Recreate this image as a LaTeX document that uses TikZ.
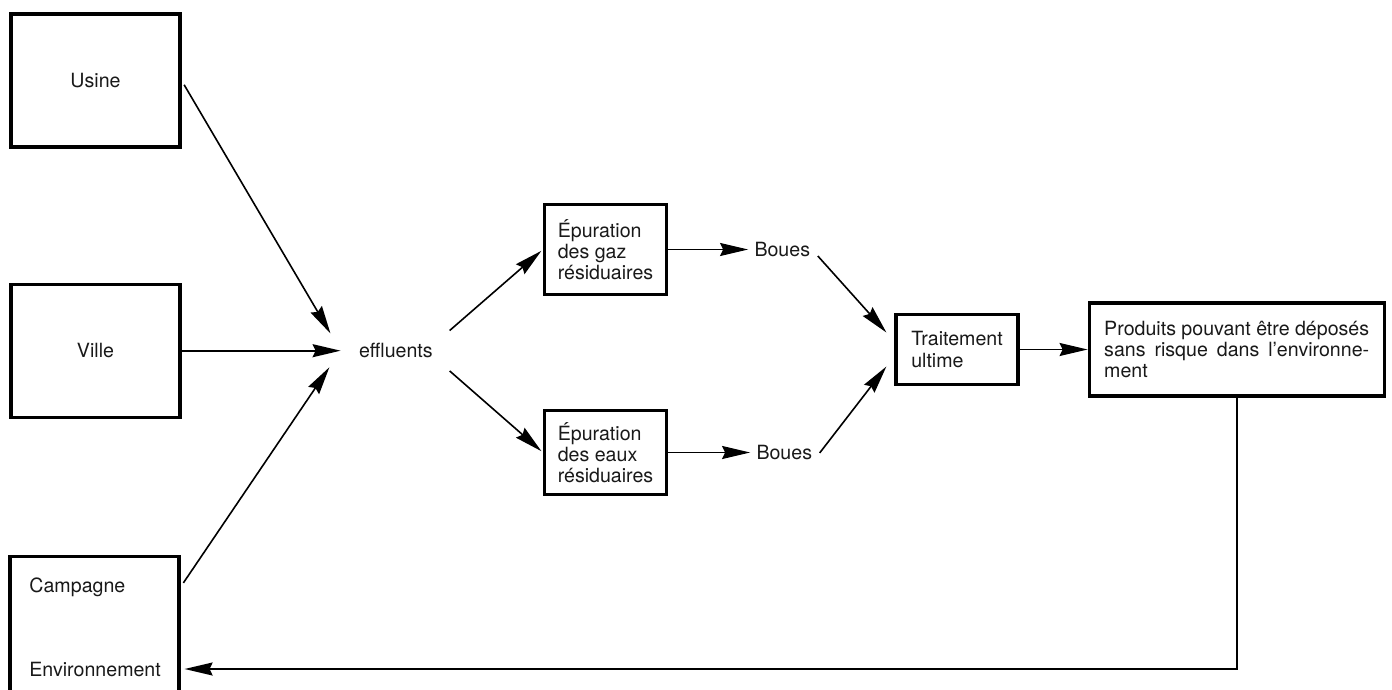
\documentclass[tikz,border=0pt]{standalone}
\usepackage{fontspec}
\setmainfont{TeX Gyre Heros}
\usepackage{calc}
\usetikzlibrary{positioning}
\usetikzlibrary{arrows.meta}

\begin{document}
\begin{tikzpicture}[
x=0.5pt, y=-0.5pt,
font=\fontsize{9.8}{10.6}\selectfont,
text=black!90,
srcbox/.style={rectangle, draw, line width=1.6pt, minimum width=84.5pt, minimum height=66.5pt},
procbox/.style={rectangle, draw, line width=1.6pt, align=left, inner sep=0pt, minimum width=61pt},
word/.style={inner sep=3pt},
flow/.style={line width=0.8pt, -{Stealth[length=14pt, width=6.5pt, inset=1.5pt]}},
]
%Frame
\path[use as bounding box] (0,0) rectangle (1392,690);
\clip (0,0) rectangle (1392,690);

%Nodes
\node[srcbox]								(usine)		at (95.5,80.5)			{Usine};
\node[srcbox]								(ville)		[below=67pt of usine]	{Ville};
\node[srcbox, minimum height=91pt]			(campbox)	at (94.5,647.5)			{};
\node[word, anchor=west]					(camp)		at (23,587)				{Campagne};
\node[word, anchor=west]					(env)		at (23,669)				{Environnement};
\node[word]									(effl)		[right=85.5pt of ville]	{effluents};
\node[procbox, minimum height=45pt]			(gaz)		at (605.5,249.5)		{Épuration\\des gaz\\résiduaires};
\node[procbox, minimum height=42pt]			(eaux)		at (605.5,452.5)		{Épuration\\des eaux\\résiduaires};
\node[word]									(boues1)	[right=40pt of gaz]		{Boues};
\node[word]									(boues2)	[right=41pt of eaux]	{Boues};
\node[procbox, minimum height=35pt]			(trait)		at (957,349.5)			{Traitement\\ultime};
\node[procbox, minimum width=147.5pt, minimum height=46.5pt]	(prod)	[right=34pt of trait]
	{Produits pouvant être déposés\\\makebox[\widthof{Produits pouvant être déposés}][s]{sans risque dans l'environne-}\\ment};

%Lines
\coordinate (hub) at ([xshift=-6pt]effl.west);
\coordinate (campout) at (campbox.east |- camp.east);
\coordinate (envin) at (campbox.east |- env.east);
\draw[flow, shorten <=2.5pt, shorten >=10pt] (usine.east) -- (hub);
\draw[flow] (ville.east) -- (hub);
\draw[flow, shorten <=2.5pt, shorten >=10pt] (campout) -- (hub);
\draw[flow, shorten <=7pt, shorten >=1pt] ([shift={(0,-11)}]effl.east) -- (gaz.west);
\draw[flow, shorten <=7pt, shorten >=1pt] ([shift={(0,11)}]effl.east) -- (eaux.west);
\draw[flow] (gaz.east) -- (boues1.west);
\draw[flow] (eaux.east) -- (boues2.west);
\draw[flow, shorten <=1pt] ([shift={(0,5)}]boues1.east) -- ([shift={(-8,-17)}]trait.west);
\draw[flow, shorten <=1pt] ([shift={(0,2)}]boues2.east) -- ([shift={(-8,17)}]trait.west);
\draw[flow] (trait.east) -- (prod.west);
\draw[flow, shorten >=2pt] (prod.south) |- (envin);
\end{tikzpicture}
\end{document}
